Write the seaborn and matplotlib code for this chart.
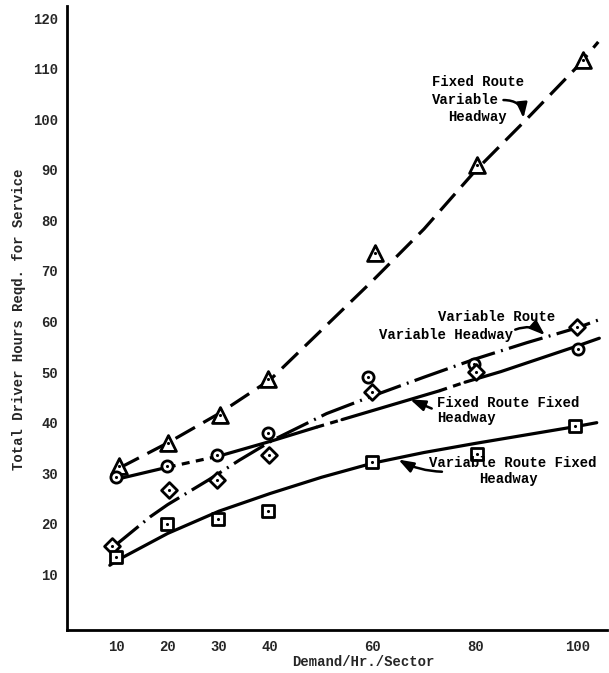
import numpy as np
import pandas as pd
import matplotlib
matplotlib.use("Agg")
import matplotlib.pyplot as plt
import seaborn as sns

# ---------------- data ----------------
# observed points
frvh_x = [10.4, 20.1, 30.2, 39.6, 60.4, 80.3, 101.0]   # Fixed Route Variable Headway (triangles)
frvh_y = [31.5, 35.9, 41.6, 48.6, 73.5, 90.9, 111.7]
frfh_x = [10.0, 19.8, 29.7, 39.6, 59.1, 79.8, 100.1]   # Fixed Route Fixed Headway (circles)
frfh_y = [29.3, 31.5, 33.6, 37.9, 49.1, 51.7, 54.5]
vrvh_x = [9.2, 20.3, 29.6, 39.8, 59.9, 80.2, 99.8]     # Variable Route Variable Headway (diamonds)
vrvh_y = [15.6, 26.7, 28.7, 33.6, 46.0, 50.1, 59.0]
vrfh_x = [9.9, 19.9, 29.9, 39.6, 59.9, 80.3, 99.5]     # Variable Route Fixed Headway (squares)
vrfh_y = [13.4, 20.0, 20.9, 22.6, 32.3, 33.9, 39.3]

# hand-drawn fitted curves
frvh_curve_x = [10.5, 20, 30, 40, 50, 60, 70, 80, 90, 100, 104]
frvh_curve_y = [31.0, 36.0, 41.8, 48.5, 58.3, 68.1, 78.3, 89.8, 100.0, 110.5, 115.3]
frfh_curve_x = [10, 20, 30, 40, 49, 54, 67, 73, 78, 85, 100, 104.2]
frfh_curve_y = [28.8, 31.2, 33.4, 36.3, 39.1, 40.6, 44.5, 46.3, 48.0, 50.1, 55.2, 56.7]
vrvh_curve_x = [9, 16.6, 20, 28, 34, 40.6, 51, 60, 70, 80, 90, 100, 104]
vrvh_curve_y = [15.1, 21.4, 23.8, 28.7, 32.6, 36.6, 41.8, 45.3, 49.0, 52.6, 55.8, 58.8, 60.3]
vrfh_curve_x = [8.7, 10, 20, 30, 40, 50, 60, 70, 80, 90, 100, 103.7]
vrfh_curve_y = [11.8, 12.7, 18.1, 22.5, 26.0, 29.2, 32.0, 34.1, 35.9, 37.6, 39.3, 40.0]

x_ticks = [10, 20, 30, 40, 60, 80, 100]
x_tick_labels = ["10", "20", "30", "40", "60", "80", "100"]
y_ticks = [10, 20, 30, 40, 50, 60, 70, 80, 90, 100, 110, 120]
y_tick_labels = [str(v) for v in y_ticks]

x_label = "Demand/Hr./Sector"
y_label = "Total Driver Hours Reqd. for Service"

# ---------------- style ----------------
sns.set_style("white")
plt.rcParams["font.family"] = ["Liberation Mono", "DejaVu Sans Mono"]
plt.rcParams["font.weight"] = "bold"
FS = 10
LW = 2.3

fig = plt.figure(figsize=(6.09, 6.73), dpi=100)
ax = fig.add_axes([67 / 609, 1 - 630 / 673, 540 / 609, 624 / 673])

# curves
sns.lineplot(x=frvh_curve_x, y=frvh_curve_y, ax=ax, color="black", lw=LW,
             sort=False, estimator=None, linestyle=(0, (7, 3)))
sns.lineplot(x=vrvh_curve_x, y=vrvh_curve_y, ax=ax, color="black", lw=LW,
             sort=False, estimator=None, linestyle=(0, (11, 2, 0.6, 2)))
sns.lineplot(x=vrfh_curve_x, y=vrfh_curve_y, ax=ax, color="black", lw=LW,
             sort=False, estimator=None)
# FR-FH: solid with a few short-dashed stretches
segments = [(0, 2, "-"), (1, 3, (0, (2.5, 2))), (2, 5, "-"), (4, 6, (0, (2.5, 2))),
            (5, 8, "-"), (7, 9, (0, (2.5, 2))), (8, 12, "-")]
for a, b, ls in segments:
    sns.lineplot(x=frfh_curve_x[a:b], y=frfh_curve_y[a:b], ax=ax, color="black",
                 lw=LW, sort=False, estimator=None, linestyle=ls)

# points
point_sets = [
    (frvh_x, frvh_y, "^", 130),
    (frfh_x, frfh_y, "o", 65),
    (vrvh_x, vrvh_y, "D", 65),
    (vrfh_x, vrfh_y, "s", 65),
]
for xs, ys, mk, sz in point_sets:
    df = pd.DataFrame({"x": xs, "y": ys})
    sns.scatterplot(data=df, x="x", y="y", ax=ax, marker=mk, s=sz,
                    facecolor="white", edgecolor="black", linewidth=2.0, zorder=3)
    sns.scatterplot(data=df, x="x", y="y", ax=ax, marker="o", s=5,
                    color="black", linewidth=0, zorder=4)

# axes
ax.set_xlim(0.35, 105.7)
ax.set_ylim(-1.0, 122.4)
ax.set_xticks(x_ticks)
ax.set_xticklabels(x_tick_labels, fontsize=FS, fontweight="bold")
ax.set_yticks(y_ticks)
ax.set_yticklabels(y_tick_labels, fontsize=FS, fontweight="bold")
ax.xaxis.get_major_ticks()[0].tick1line.set_visible(False)
ax.tick_params(axis="both", direction="inout", length=9, width=1.8, color="black")
ax.tick_params(axis="x", pad=3)
ax.tick_params(axis="y", pad=2)
for s in ["top", "right"]:
    ax.spines[s].set_visible(False)
for s in ["left", "bottom"]:
    ax.spines[s].set_linewidth(2.0)
    ax.spines[s].set_color("black")
ax.grid(False)

ax.set_xlabel(x_label, fontsize=FS, fontweight="bold")
ax.set_ylabel(y_label, fontsize=FS, fontweight="bold")
ax.xaxis.set_label_coords(0.548, -0.040)
ax.yaxis.set_label_coords(-0.076, 0.498)

# annotations
tk = dict(fontsize=FS, fontweight="bold", ha="left", va="center", color="black")
ax.text(71.5, 107.4, "Fixed Route", **tk)
ax.text(71.5, 103.8, "Variable", **tk)
ax.text(74.7, 100.5, "Headway", **tk)
ax.text(72.8, 60.8, "Variable Route", **tk)
ax.text(61.3, 57.3, "Variable Headway", **tk)
ax.text(72.6, 43.8, "Fixed Route Fixed", **tk)
ax.text(72.6, 40.9, "Headway", **tk)
ax.text(70.9, 32.1, "Variable Route Fixed", **tk)
ax.text(80.8, 28.9, "Headway", **tk)

arrow = "-|>,head_length=0.9,head_width=0.32"
def arr(tail, head, rad):
    ax.annotate("", xy=head, xytext=tail,
                arrowprops=dict(arrowstyle=arrow, color="black", lw=1.8,
                                shrinkA=0, shrinkB=0,
                                connectionstyle=f"arc3,rad={rad}"))

arr((85.5, 103.8), (89.4, 100.2), -0.45)
arr((87.8, 58.4), (93.6, 57.3), -0.3)
arr((71.5, 42.8), (67.3, 44.6), 0.0)
arr((73.5, 30.3), (65.0, 32.7), -0.12)

fig.savefig("out.png", dpi=100)
